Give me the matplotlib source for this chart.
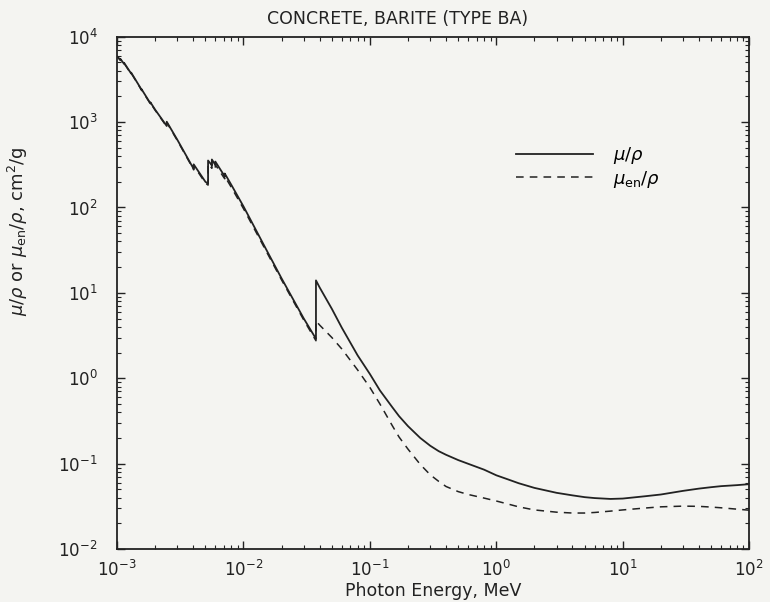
import numpy as np
import matplotlib
matplotlib.use("Agg")
import matplotlib.pyplot as plt

# photon energy grid (MeV); duplicated energies mark absorption edges
energy = [1.000e-3, 1.063e-3, 1.063e-3, 1.137e-3, 1.137e-3, 1.293e-3, 1.293e-3,
          1.500e-3, 1.560e-3, 1.560e-3, 1.839e-3, 1.839e-3, 2.000e-3,
          2.472e-3, 2.472e-3, 3.000e-3, 4.000e-3, 4.038e-3, 4.038e-3, 5.000e-3,
          5.247e-3, 5.247e-3, 5.500e-3, 5.624e-3, 5.624e-3, 5.989e-3, 5.989e-3,
          7.000e-3, 7.112e-3, 7.112e-3, 8.000e-3, 1.000e-2, 1.500e-2, 2.000e-2,
          3.000e-2, 3.7441e-2, 3.7441e-2, 4.000e-2, 5.000e-2, 6.000e-2,
          8.000e-2, 1.000e-1, 1.200e-1, 1.500e-1, 1.700e-1, 2.000e-1, 2.500e-1,
          3.000e-1, 3.500e-1, 4.000e-1, 5.000e-1, 6.000e-1, 8.000e-1,
          1.0, 1.25, 1.5, 2.0, 3.0, 4.0, 5.0,
          6.0, 8.0, 10.0, 15.0, 20.0, 30.0, 40.0, 50.0, 60.0, 80.0, 100.0]

# mass attenuation coefficient mu/rho (cm2/g)
mu_rho = [5900, 5350, 5500, 4800, 4950, 3700, 3800,
          2650, 2400, 2440, 1650, 1700, 1400,
          900, 1010, 620, 290, 282, 320, 200,
          190, 355, 325, 310, 365, 315, 345,
          240, 232, 250, 185, 103, 33, 14.8,
          5.0, 2.9, 14.0, 11.6, 6.5, 3.9,
          1.85, 1.12, 0.72, 0.46, 0.36, 0.275, 0.200,
          0.162, 0.140, 0.127, 0.110, 0.0995, 0.085,
          0.073, 0.065, 0.059, 0.052, 0.0455, 0.0425, 0.0405,
          0.0395, 0.0386, 0.039, 0.0415, 0.0435, 0.048, 0.051, 0.053, 0.0545, 0.056, 0.0575]

# mass energy-absorption coefficient mu_en/rho (cm2/g)
muen_rho = [5850, 5300, 5430, 4750, 4880, 3660, 3750,
            2620, 2370, 2400, 1630, 1670, 1380,
            885, 990, 608, 284, 276, 310, 193,
            183, 325, 300, 288, 335, 292, 318,
            224, 217, 232, 173, 97, 31.5, 14.2,
            4.8, 2.75, 4.7, 4.2, 3.0, 2.2,
            1.25, 0.78, 0.50, 0.28, 0.205, 0.148, 0.098,
            0.074, 0.062, 0.054, 0.047, 0.0435, 0.0395,
            0.0365, 0.0335, 0.0312, 0.0287, 0.0270, 0.0264, 0.0264,
            0.0268, 0.0278, 0.0287, 0.0302, 0.0312, 0.0318, 0.0316, 0.031, 0.0304, 0.0293, 0.0285]

bg = '#f4f4f1'
ink = '#222222'
plt.rcParams['font.family'] = 'DejaVu Sans'

fig = plt.figure(figsize=(7.7, 6.02), dpi=100, facecolor=bg)
ax = fig.add_axes([0.152, 0.088, 0.821, 0.851], facecolor=bg)

ax.loglog(energy, mu_rho, color=ink, lw=1.3, label=r'$\mu/\rho$')
ax.loglog(energy, muen_rho, color=ink, lw=1.1, ls=(0, (5, 4)), label=r'$\mu_{\rm en}/\rho$')

ax.set_xlim(1e-3, 1e2)
ax.set_ylim(1e-2, 1e4)

ax.tick_params(which='both', direction='in', top=True, right=True, colors=ink,
               labelsize=12)
ax.tick_params(which='major', length=6, width=1.0)
ax.tick_params(which='minor', length=3, width=0.8)
ax.tick_params(axis='x', pad=8)
ax.tick_params(axis='y', pad=14)
for s in ax.spines.values():
    s.set_linewidth(1.3)
    s.set_color(ink)

ax.set_xlabel('Photon Energy, MeV', fontsize=12.5, color=ink, labelpad=1)
ax.set_ylabel(r'$\mu/\rho$ or $\mu_{\rm en}/\rho$, cm$^2$/g', fontsize=13, color=ink)
ax.yaxis.set_label_coords(-0.138, 0.62)
ax.text(0.443, 1.018, 'CONCRETE, BARITE (TYPE BA)', transform=ax.transAxes,
        ha='center', va='bottom', fontsize=12.5, color=ink)

ax.legend(loc='center left', bbox_to_anchor=(0.605, 0.745), frameon=False,
          fontsize=13, handlelength=4.3, handletextpad=1.1, labelspacing=0.15)

fig.savefig('out.png', dpi=100, facecolor=bg)
